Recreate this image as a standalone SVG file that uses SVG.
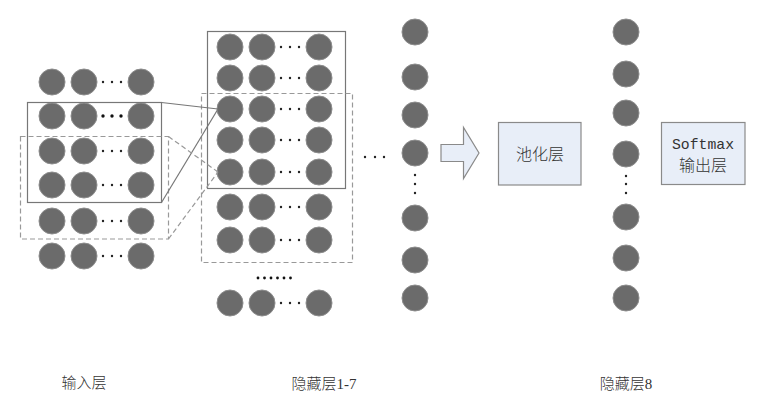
<svg xmlns="http://www.w3.org/2000/svg" width="775" height="410" viewBox="0 0 775 410">
<style>
.n{fill:#6b6b6b;stroke:#8c8c8c;stroke-width:1}
.d{fill:#222}
.db{fill:#111}
.sr{fill:none;stroke:#777;stroke-width:1.2}
.dr{fill:none;stroke:#999;stroke-width:1.2;stroke-dasharray:5 3}
.box{fill:#e8eef8;stroke:#8a8a8a;stroke-width:1.2}
.lbl{font-family:"Liberation Serif","Noto Sans CJK SC",serif;font-size:15px;font-weight:300;fill:#333}
.bt{font-family:"Noto Sans CJK SC",sans-serif;font-size:16px;font-weight:300;fill:#333}
.mt{font-family:"Liberation Mono","Noto Sans CJK SC",monospace;font-size:15px;fill:#333}
</style>
<defs>
<g id="row3">
<circle class="n" cx="0" cy="0" r="13"/>
<circle class="n" cx="32" cy="0" r="13"/>
<circle class="d" cx="51" cy="0" r="1.2"/>
<circle class="d" cx="60" cy="0" r="1.2"/>
<circle class="d" cx="69" cy="0" r="1.2"/>
<circle class="n" cx="89" cy="0" r="13"/>
</g>
<g id="row3b">
<circle class="n" cx="0" cy="0" r="13"/>
<circle class="n" cx="32" cy="0" r="13"/>
<circle class="db" cx="51" cy="0" r="1.7"/>
<circle class="db" cx="60" cy="0" r="1.7"/>
<circle class="db" cx="69" cy="0" r="1.7"/>
<circle class="n" cx="89" cy="0" r="13"/>
</g>
</defs>

<g id="input-layer">
<use href="#row3" x="52" y="82"/>
<use href="#row3b" x="52" y="116"/>
<use href="#row3" x="52" y="151"/>
<use href="#row3" x="52" y="185"/>
<use href="#row3" x="52" y="221"/>
<use href="#row3" x="52" y="256"/>
<rect class="sr" x="27.5" y="102.5" width="134" height="100"/>
<rect class="dr" x="20.5" y="136.5" width="148" height="102.5"/>
</g>

<g id="hidden-1-7">
<use href="#row3" x="230" y="47"/>
<use href="#row3" x="230" y="78"/>
<use href="#row3" x="230" y="109"/>
<use href="#row3" x="230" y="140"/>
<use href="#row3" x="230" y="172"/>
<use href="#row3" x="230" y="207"/>
<use href="#row3" x="230" y="240"/>
<use href="#row3" x="230" y="303"/>
<rect class="sr" x="207.5" y="31.5" width="138" height="157"/>
<rect class="dr" x="201.5" y="93.5" width="151" height="169"/>
<circle class="db" cx="258" cy="278" r="1.4"/>
<circle class="db" cx="264.5" cy="278" r="1.4"/>
<circle class="db" cx="271" cy="278" r="1.4"/>
<circle class="db" cx="277.5" cy="278" r="1.4"/>
<circle class="db" cx="284" cy="278" r="1.4"/>
<circle class="db" cx="290.5" cy="278" r="1.4"/>
</g>

<g id="hidden-column">
<circle class="d" cx="365" cy="157" r="1.2"/>
<circle class="d" cx="375" cy="157" r="1.2"/>
<circle class="d" cx="384" cy="157" r="1.2"/>
<circle class="n" cx="415" cy="32" r="13"/>
<circle class="n" cx="415" cy="77" r="13"/>
<circle class="n" cx="415" cy="115" r="13"/>
<circle class="n" cx="415" cy="153" r="13"/>
<circle class="d" cx="415" cy="175" r="1.2"/>
<circle class="d" cx="415" cy="184" r="1.2"/>
<circle class="d" cx="415" cy="193" r="1.2"/>
<circle class="n" cx="415" cy="218" r="13"/>
<circle class="n" cx="415" cy="260" r="13"/>
<circle class="n" cx="415" cy="298" r="13"/>
</g>

<g id="arrow">
<polygon class="box" points="441,144.5 463.5,144.5 463.5,127.5 479,153 463.5,178.5 463.5,161.5 441,161.5"/>
</g>

<g id="pool-layer">
<rect class="box" x="498.5" y="122.5" width="82.5" height="62.5"/>
<text class="bt" x="540" y="159.5" text-anchor="middle">池化层</text>
</g>

<g id="hidden-8">
<circle class="n" cx="626" cy="32" r="13"/>
<circle class="n" cx="626" cy="74" r="13"/>
<circle class="n" cx="626" cy="113" r="13"/>
<circle class="n" cx="626" cy="154" r="13"/>
<circle class="d" cx="626" cy="176" r="1.2"/>
<circle class="d" cx="626" cy="184" r="1.2"/>
<circle class="d" cx="626" cy="193" r="1.2"/>
<circle class="n" cx="626" cy="217" r="13"/>
<circle class="n" cx="626" cy="258" r="13"/>
<circle class="n" cx="626" cy="298" r="13"/>
</g>

<g id="softmax-layer">
<rect class="box" x="661.5" y="122.5" width="83.5" height="62"/>
<text class="mt" x="703" y="148.5" text-anchor="middle" textLength="62" lengthAdjust="spacingAndGlyphs">Softmax</text>
<text class="bt" x="703" y="171" text-anchor="middle">输出层</text>
</g>

<g id="connectors">
<line class="sr" x1="161.5" y1="102.5" x2="218" y2="109"/>
<line class="sr" x1="161.5" y1="202.5" x2="218" y2="109"/>
<line class="dr" x1="168.5" y1="136.5" x2="218" y2="172"/>
<line class="dr" x1="168.5" y1="239" x2="218" y2="172"/>
</g>

<g id="labels">
<text class="lbl" x="84" y="388" text-anchor="middle">输入层</text>
<text class="lbl" x="324" y="389" text-anchor="middle">隐藏层1-7</text>
<text class="lbl" x="626" y="389" text-anchor="middle">隐藏层8</text>
</g>
</svg>
